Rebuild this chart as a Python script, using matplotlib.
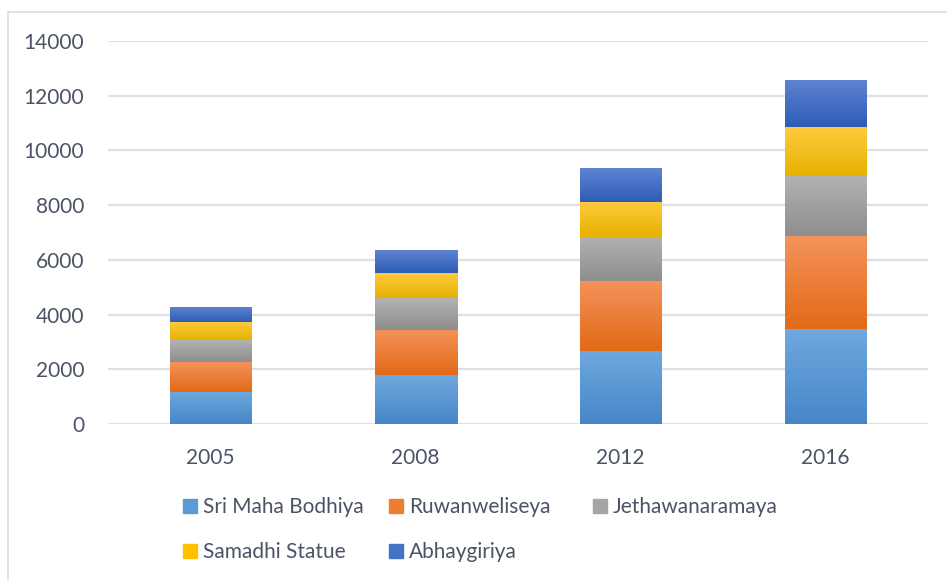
import matplotlib
matplotlib.use("Agg")
import matplotlib.pyplot as plt
import numpy as np
from matplotlib.colors import LinearSegmentedColormap
from matplotlib.lines import Line2D
from matplotlib.patches import Patch

plt.rcParams["font.family"] = ["Lato", "DejaVu Sans"]

years = ["2005", "2008", "2012", "2016"]
series = ["Sri Maha Bodhiya", "Ruwanweliseya", "Jethawanaramaya",
          "Samadhi Statue", "Abhaygiriya"]
sri_maha_bodhiya = [1180, 1790, 2670, 3470]
ruwanweliseya = [1100, 1660, 2560, 3410]
jethawanaramaya = [800, 1160, 1610, 2190]
samadhi_statue = [660, 910, 1280, 1780]
abhaygiriya = [550, 840, 1240, 1720]
values = [sri_maha_bodhiya, ruwanweliseya, jethawanaramaya,
          samadhi_statue, abhaygiriya]

# (top, bottom) gradient colours per series
grads = [("#70a8de", "#4686c8"), ("#f4935a", "#e26a18"),
         ("#b2b2b2", "#8e8e8e"), ("#ffca3e", "#e6b200"),
         ("#5f83d2", "#2e5db6")]
legend_cols = ["#5b9bd5", "#ed7d31", "#a5a5a5", "#ffc000", "#4472c4"]

text_col = "#4a5466"
grid_col = "#dde1e6"

fig = plt.figure(figsize=(9.47, 5.81), dpi=100)
ax = fig.add_axes([108 / 947, 1 - 424 / 581, 820 / 947, 383 / 581])

x = np.arange(len(years))
w = 0.40
bottom = np.zeros(len(years))
grad = np.linspace(0, 1, 64).reshape(-1, 1)
for vals, (top_c, bot_c) in zip(values, grads):
    bars = ax.bar(x, vals, w, bottom=bottom, color=bot_c, linewidth=0, zorder=2)
    cmap = LinearSegmentedColormap.from_list("g", [bot_c, top_c])
    for b in bars:
        x0, y0 = b.get_x(), b.get_y()
        im = ax.imshow(grad, cmap=cmap, aspect="auto", origin="lower",
                       extent=(x0, x0 + b.get_width(), y0, y0 + b.get_height()),
                       zorder=3)
        im.set_clip_path(b)
    bottom += np.array(vals)

ax.set_xlim(-0.5, len(years) - 0.5)
ax.set_ylim(0, 14000)
ax.set_yticks(np.arange(0, 14001, 2000))
ax.set_xticks(x)
ax.set_xticklabels(years)
ax.grid(axis="y", color=grid_col, lw=1.6, zorder=0)
ax.set_axisbelow(True)
for s in ax.spines.values():
    s.set_visible(False)
ax.tick_params(length=0, labelsize=15, labelcolor=text_col)
ax.tick_params(axis="y", pad=17)
ax.tick_params(axis="x", pad=17)

# chart border (left and top only visible)
fig.add_artist(Line2D([8 / 947, 8 / 947], [0, 1 - 12 / 581], color="#d9dde3", lw=1.2))
fig.add_artist(Line2D([8 / 947, 1], [1 - 12 / 581, 1 - 12 / 581], color="#d9dde3", lw=1.2))

# legend: Excel-style fixed columns, one legend per column
handles = [Patch(color=c) for c in legend_cols]
columns = [([0, 3], 183), ([1, 4], 389), ([2], 593)]
for idx, xpix in columns:
    leg = fig.legend([handles[i] for i in idx], [series[i] for i in idx],
                     loc="upper left", bbox_to_anchor=(xpix / 947, 1 - 497 / 581),
                     frameon=False, fontsize=15, labelcolor=text_col,
                     handlelength=0.65, handleheight=0.65, handletextpad=0.3,
                     labelspacing=1.2, borderaxespad=0, borderpad=0)

fig.savefig("out.png", dpi=100)
